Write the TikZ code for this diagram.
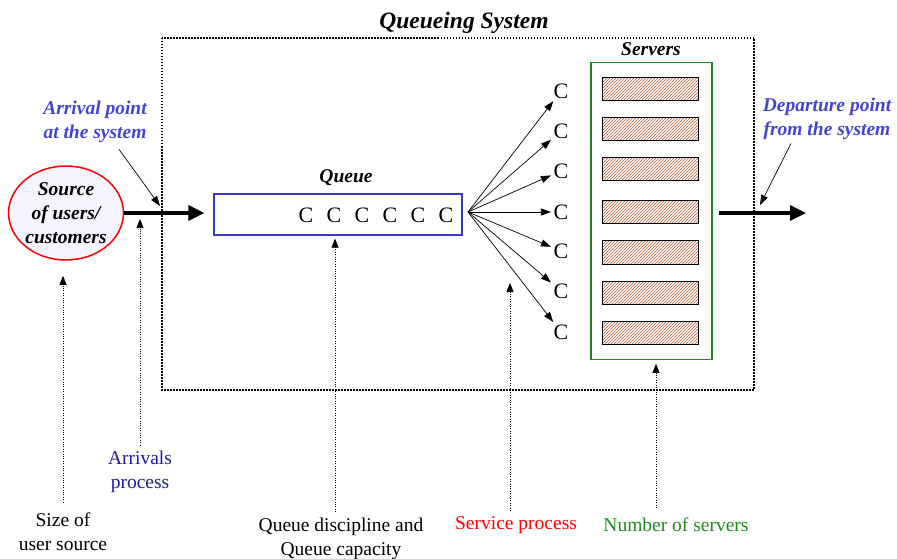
\documentclass[tikz,border=0pt]{standalone}
\usepackage{fontspec}
\setmainfont{Liberation Serif}
\usetikzlibrary{shapes.geometric,arrows.meta,positioning,calc,patterns}
\definecolor{Ink}{HTML}{000000}
\definecolor{Royal}{HTML}{4444D4}
\definecolor{Navy}{HTML}{1C1C9C}
\definecolor{QBlue}{HTML}{3838C8}
\definecolor{Leaf}{HTML}{1E8A1E}
\definecolor{Rust}{HTML}{B05A34}

\tikzset{
  bigarrow/.style={line width=3.2pt,-{Triangle[length=16pt,width=15pt]}},
  thinarrow/.style={line width=0.7pt,-{Triangle[length=10pt,width=7pt]}},
  pointer/.style={line width=0.6pt,dash pattern=on 1pt off 1.4pt,-{Triangle[length=9pt,width=7pt]}},
  bi/.style={font=\fontsize{19.5}{24}\selectfont\bfseries\itshape},
  cust/.style={font=\fontsize{22}{24}\selectfont,inner sep=0.25em},
  bar/.style={draw,line width=0.6pt,minimum width=96,minimum height=23.5,inner sep=0,
    pattern=north east lines,pattern color=Rust}
}

\begin{document}
\begin{tikzpicture}[x=1pt,y=-1pt, every node/.style={font=\fontsize{19.5}{24}\selectfont,align=center}]
  \useasboundingbox (0,0) rectangle (897,559);

  % system boundary
  \draw[line width=1.5pt,dash pattern=on 1.5pt off 1.5pt] (162,38) rectangle (754,390);
  \node[bi,font=\fontsize{23.5}{26}\selectfont\bfseries\itshape] (title) at (464,23) {Queueing System};

  % source
  \node[ellipse,draw=red,line width=1.5pt,fill=blue!4,minimum width=108,minimum height=94,
    inner sep=0,bi] (src) at (66,213) {Source\\of users/\\customers};

  % queue
  \node[draw=QBlue,line width=1.2pt,minimum width=248,minimum height=41,inner sep=0] (queue) at (338,214.5) {};
  \node[bi] (qlbl) at (346,178) {Queue};
  \foreach \i in {0,...,5}
    \node[cust] (q\i) at (306+28*\i,215) {C};
  \coordinate (fan) at (468,212);

  % servers
  \node[draw=Leaf,line width=1.2pt,minimum width=121,minimum height=297,inner sep=0] (srv) at (651.5,210.8) {};
  \node[bi] (slbl) at (651,49) {Servers};
  \foreach \y [count=\k] in {89,129,169,212,252.5,293,333}
    \node[bar] (s\k) at (650,\y) {};

  % customers in service
  \foreach \y [count=\k] in {91,131,171,212,251,291,332} {
    \node[cust] (c\k) at (561,\y) {C};
    \draw[thinarrow] (fan) -- (c\k);
  }

  % flow in and out
  \coordinate (exit) at (806,213);
  \draw[bigarrow,shorten >=9pt] (src) -- (src -| queue.west);
  \draw[bigarrow,shorten <=6pt] (srv.east |- exit) -- (exit);

  % entry and exit points
  \node[bi,text=Royal] (arr) at (95,122) {Arrival point\\at the system};
  \coordinate (arrat) at (160,206);
  \draw[thinarrow] ($(arr.south)+(24,3)$) -- (arrat);
  \node[bi,text=Royal] (dep) at (827,119) {Departure point\\from the system};
  \coordinate (depat) at (760,205);
  \draw[thinarrow] ($(dep.south)+(-36,0)$) -- (depat);

  % characteristics
  \node (size) at (63,532) {Size of\\user source};
  \draw[pointer,shorten <=7pt,shorten >=15pt] (size) -- (size |- src.south);
  \node[text=Navy] (arrp) at (140,472) {Arrivals\\process};
  \coordinate (arrin) at (140,219);
  \draw[pointer,shorten <=2pt] (arrp) -- (arrin);
  \node (qdisc) at (341,538.5) {Queue discipline and\\Queue capacity};
  \draw[pointer,shorten <=2pt,shorten >=3pt] (qdisc.north -| 335,0) -- (queue.south -| 335,0);
  \node[text=red] (svc) at (516,525) {Service process};
  \coordinate (svcat) at (510,283);
  \draw[pointer,shorten <=2pt] (svc.north -| svcat) -- (svcat);
  \node[text=Leaf] (nsrv) at (676,524.5) {Number of servers};
  \draw[pointer,shorten <=6pt,shorten >=4pt] (nsrv.north -| 656,0) -- (srv.south -| 656,0);
\end{tikzpicture}
\end{document}
